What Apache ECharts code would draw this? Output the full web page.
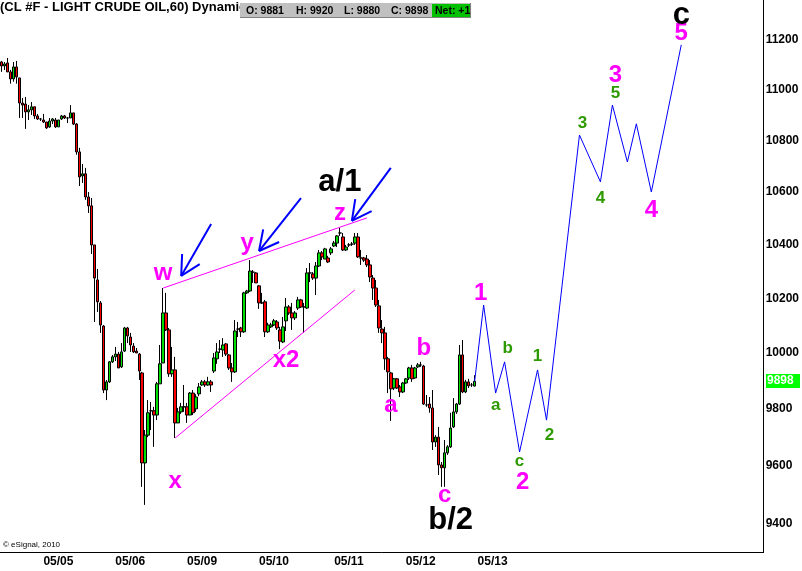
<!DOCTYPE html>
<html><head><meta charset="utf-8">
<script src="https://cdn.jsdelivr.net/npm/echarts@6.0.0/dist/echarts.min.js"></script>
<style>html,body{margin:0;padding:0;background:#fff}#c{width:802px;height:571px}</style>
</head><body><div id="c"></div>
<script>
// ---- data ----
const slotCount = 255;
const dateTickLabels = ['05/05','05/06','05/09','05/10','05/11','05/12','05/13'];
const dateTickIndex = [19,43,67,91,116,140,164];
const yTicks = [9400,9600,9800,10000,10200,10400,10600,10800,11000,11200];

const opens = [11111,11095,11107,11071,11043,11091,11047,10947,10943,10912,
10920,10932,10896,10884,10880,10872,10853,10876,10880,10853,
10884,10896,10888,10888,10908,10864,10755,10662,10670,10581,
10547,10399,10268,10183,10098,9867,9896,9968,9986,9996,
9950,10007,10091,10058,10025,10007,9996,9928,9610,9707,
9793,9793,9778,9889,9964,10146,10084,9925,9939,9750,
9789,9807,9807,9778,9856,9800,9853,9885,9896,9885,
9896,9935,9979,10014,10011,10033,9993,9946,9932,10087,
10091,10077,10220,10227,10297,10294,10246,10183,10187,10077,
10095,10102,10113,10084,10040,10117,10168,10146,10128,10164,
10194,10168,10164,10294,10290,10275,10320,10369,10346,10350,
10369,10395,10406,10444,10429,10380,10399,10402,10406,10429,
10350,10350,10346,10324,10275,10238,10172,10087,10073,9979,
9928,9874,9907,9878,9860,9892,9910,9946,9910,9950,
9957,9953,9814,9817,9803,9683,9700,9603,9593,9645,
9666,9736,9789,9817,9993,9860,9896,9885,9881];
const closes = [11095,11103,11071,11043,11091,11051,10947,10939,10912,10920,
10932,10896,10884,10884,10872,10849,10876,10884,10853,10880,
10896,10888,10888,10908,10864,10755,10658,10670,10581,10547,
10399,10275,10187,10102,9867,9896,9968,9986,9996,9946,
10004,10091,10062,10029,10004,10000,9935,9610,9707,9786,
9793,9778,9889,9961,10146,10084,9925,9939,9750,9789,
9807,9807,9778,9856,9786,9842,9878,9896,9885,9896,
9885,9982,10004,10014,10029,9996,9946,9932,10080,10087,
10077,10220,10227,10301,10297,10257,10183,10183,10077,10102,
10102,10117,10091,10043,10095,10168,10146,10128,10146,10194,
10168,10168,10294,10294,10275,10320,10369,10354,10384,10335,
10384,10406,10433,10444,10380,10391,10399,10402,10429,10354,
10350,10342,10324,10279,10238,10175,10091,10073,9979,9932,
9871,9907,9874,9860,9892,9907,9946,9907,9946,9957,
9957,9817,9814,9803,9683,9700,9603,9593,9645,9666,
9732,9789,9817,9993,9860,9896,9882,9885,9898];
const lows = [11071,11079,11071,11024,11032,11024,10888,10888,10845,10880,
10900,10884,10880,10876,10868,10845,10849,10864,10849,10853,
10880,10884,10868,10888,10860,10744,10623,10635,10570,10520,
10365,10113,10150,10073,9856,9831,9892,9964,9971,9946,
9946,10004,10036,10004,10000,10000,9903,9527,9465,9700,
9725,9666,9760,9889,9964,10080,9914,9914,9697,9750,
9782,9789,9750,9778,9778,9789,9845,9882,9878,9882,
9860,9928,9961,10000,9986,9989,9939,9896,9928,10058,
10058,10073,10216,10224,10257,10257,10161,10179,10058,10073,
10091,10098,10084,10014,10036,10080,10139,10084,10120,10157,
10164,10073,10161,10260,10268,10212,10316,10342,10346,10331,
10361,10391,10391,10433,10376,10376,10391,10395,10399,10350,
10324,10335,10316,10260,10194,10168,10073,10036,9939,9856,
9757,9867,9871,9842,9856,9889,9903,9896,9907,9946,
9950,9814,9807,9786,9655,9666,9568,9527,9527,9638,
9662,9732,9782,9814,9856,9856,9874,9878,9880];
const highs = [11115,11111,11127,11079,11111,11115,11047,10967,10971,10939,
10951,10932,10904,10888,10904,10872,10888,10888,10888,10880,
10900,10900,10892,10939,10908,10868,10771,10708,10693,10600,
10577,10399,10309,10190,10102,9903,9971,9993,10022,10004,
10036,10095,10095,10073,10036,10018,10000,9932,9725,9831,
9824,9807,9896,10029,10238,10220,10091,10022,9986,9803,
9821,9885,9821,9860,9867,9852,9892,9903,9903,9914,
9903,10000,10036,10047,10054,10036,9996,9964,10120,10113,
10095,10224,10231,10342,10305,10297,10249,10220,10194,10110,
10110,10124,10120,10095,10131,10201,10175,10183,10153,10205,
10198,10183,10312,10331,10297,10335,10380,10376,10388,10358,
10391,10414,10436,10463,10444,10399,10406,10410,10444,10444,
10380,10354,10361,10342,10286,10268,10194,10120,10095,9986,
9932,9910,9910,9885,9896,9910,9950,9957,9950,9964,
9968,9957,9849,9842,9867,9707,9736,9613,9690,9672,
9786,9838,9821,10029,10047,9903,9907,9892,9920];

const quoteOpen = 9881, quoteHigh = 9920, quoteLow = 9880, quoteClose = 9898, quoteNet = '+1';

// projected wave path (blue)
const projIndex = [158,161,165,168,173,179,182,193,200,204,209,212,217,227];
const projValue = [9898,10175,9856,9968,9648,9939,9760,10821,10639,10939,10716,10865,10600,11180];

// pink channel lines
const upperLine = [[54,10238],[122,10501]];
const lowerLine = [[58,9697],[118,10231]];

// blue arrows: [tailIndex, tailValue, headIndex, headValue]
const arrows = [[70,10478,60,10283],[100,10577,86,10376],[130,10693,117,10490]];

// wave labels
const pinkText  = ['w','y','z','x','x2','a','b','c','1','2','3','4','5'];
const pinkIndex = [54,82,113,58,95,130,141,148,160,174,205,217,227];
const pinkValue = [10294,10406,10520,9547,9975,9813,10018,9499,10220,9544,11059,10531,11228];

const blackText  = ['a/1','b/2','c'];
const blackIndex = [113,150,227];
const blackValue = [10635,9413,11298];

const greenText  = ['a','b','c','1','2','3','4','5'];
const greenIndex = [165,169,173,179,183,194,200,205];
const greenValue = [9813,10018,9617,9989,9708,10865,10577,10987];

const titleText = '(CL #F - LIGHT CRUDE OIL,60) Dynamic';

// ---- build ----
const FONT = '"Liberation Sans", Arial, sans-serif';
const slots = [];
for (let k = 0; k < slotCount; k++) slots.push(String(k));
const tickMap = {};
dateTickIndex.forEach((ix, k) => { tickMap[ix] = dateTickLabels[k]; });
const candleData = opens.map((o, k) => [o, closes[k], lows[k], highs[k]]);
const projData = projIndex.map((ix, k) => [ix, projValue[k]]);

function labelSeries(idx, vals, texts, color, size) {
  return {
    type: 'custom', silent: true, z: 10,
    data: idx.map((ix, k) => [ix, vals[k]]),
    renderItem: (params, api) => {
      const p = api.coord([api.value(0), api.value(1)]);
      return { type: 'text', x: p[0], y: p[1],
        style: { text: texts[params.dataIndex], fill: color,
          font: 'bold ' + size + 'px ' + FONT, align: 'center', verticalAlign: 'middle' } };
    }
  };
}

const headerGraphics = [
  { type: 'text', x: 0, y: 7, style: { text: titleText, font: 'bold 13px ' + FONT, fill: '#000', verticalAlign: 'middle' }, z: 100 },
  { type: 'rect', shape: { x: 240, y: 3, width: 231, height: 15 }, style: { fill: '#c0c0c0' }, z: 101 },
  { type: 'line', shape: { x1: 240, y1: 17.5, x2: 471, y2: 17.5 }, style: { stroke: '#808080', lineWidth: 1 }, z: 102 },
  { type: 'line', shape: { x1: 470.5, y1: 3, x2: 470.5, y2: 18 }, style: { stroke: '#808080', lineWidth: 1 }, z: 102 },
  { type: 'rect', shape: { x: 432, y: 4, width: 38, height: 13 }, style: { fill: '#00c000' }, z: 102 },
  { type: 'text', x: 246, y: 11, style: { text: 'O: ' + quoteOpen, font: 'bold 10.5px ' + FONT, fill: '#000', verticalAlign: 'middle' }, z: 103 },
  { type: 'text', x: 296, y: 11, style: { text: 'H: ' + quoteHigh, font: 'bold 10.5px ' + FONT, fill: '#000', verticalAlign: 'middle' }, z: 103 },
  { type: 'text', x: 344, y: 11, style: { text: 'L: ' + quoteLow, font: 'bold 10.5px ' + FONT, fill: '#000', verticalAlign: 'middle' }, z: 103 },
  { type: 'text', x: 391, y: 11, style: { text: 'C: ' + quoteClose, font: 'bold 10.5px ' + FONT, fill: '#000', verticalAlign: 'middle' }, z: 103 },
  { type: 'text', x: 435, y: 11, style: { text: 'Net: ' + quoteNet, font: 'bold 10.5px ' + FONT, fill: '#000', verticalAlign: 'middle' }, z: 104 },
  { type: 'text', x: 3, y: 545, style: { text: '\u00a9 eSignal, 2010', font: '8px ' + FONT, fill: '#000', verticalAlign: 'middle' }, z: 100 }
];

const chart = echarts.init(document.getElementById('c'), null, {renderer: 'canvas'});
chart.setOption({
  animation: false,
  backgroundColor: '#ffffff',
  grid: { left: 0, right: 37, top: 0, bottom: 19, containLabel: false },
  xAxis: {
    type: 'category', data: slots, boundaryGap: true,
    axisLine: { lineStyle: { color: '#000', width: 1 } },
    axisTick: { show: false }, splitLine: { show: false },
    axisLabel: {
      interval: (ix) => tickMap[ix] !== undefined,
      formatter: (v, ix) => tickMap[ix] || '',
      color: '#000', fontWeight: 'bold', fontSize: 12, fontFamily: FONT, margin: 4
    }
  },
  yAxis: {
    type: 'log', logBase: 10, position: 'right', min: 9305, max: 11363,
    axisLine: { show: true, lineStyle: { color: '#000', width: 1 } },
    axisTick: { show: false }, splitLine: { show: false },
    axisLabel: {
      customValues: yTicks,
      formatter: (v) => String(Math.round(v)),
      color: '#000', fontWeight: 'bold', fontSize: 12, fontFamily: FONT, margin: 2
    }
  },
  series: [
    {
      type: 'candlestick', data: candleData, barWidth: 3,
      itemStyle: { color: '#00dd00', color0: '#ff0000', borderColor: '#000', borderColor0: '#000', borderColorDoji: '#000', borderWidth: 1 }
    },
    { type: 'line', data: upperLine, symbol: 'none', silent: true, lineStyle: { color: '#ff00ff', width: 1 }, z: 5 },
    { type: 'line', data: lowerLine, symbol: 'none', silent: true, lineStyle: { color: '#ff00ff', width: 1 }, z: 5 },
    { type: 'line', data: projData, symbol: 'none', silent: true, lineStyle: { color: '#0000ff', width: 1 }, z: 5 },
    {
      type: 'custom', silent: true, z: 6,
      data: arrows,
      renderItem: (params, api) => {
        const t = api.coord([api.value(0), api.value(1)]);
        const h = api.coord([api.value(2), api.value(3)]);
        const ang = Math.atan2(t[1] - h[1], t[0] - h[0]);
        const L = 22, sp = 0.48;
        const st = { stroke: '#0000ff', lineWidth: 2 };
        const b1 = [h[0] + L * Math.cos(ang + sp), h[1] + L * Math.sin(ang + sp)];
        const b2 = [h[0] + L * Math.cos(ang - sp), h[1] + L * Math.sin(ang - sp)];
        return { type: 'group', children: [
          { type: 'line', shape: { x1: t[0], y1: t[1], x2: h[0], y2: h[1] }, style: st },
          { type: 'line', shape: { x1: h[0], y1: h[1], x2: b1[0], y2: b1[1] }, style: st },
          { type: 'line', shape: { x1: h[0], y1: h[1], x2: b2[0], y2: b2[1] }, style: st }
        ]};
      }
    },
    labelSeries(pinkIndex, pinkValue, pinkText, '#ff00ff', 24),
    labelSeries(blackIndex, blackValue, blackText, '#000000', 31),
    labelSeries(greenIndex, greenValue, greenText, '#2e9a00', 17)
  ],
  graphic: headerGraphics
});

// last-price tag on the right axis, placed through the y scale
const tagY = chart.convertToPixel({ yAxisIndex: 0 }, quoteClose);
chart.setOption({
  graphic: headerGraphics.concat([
    { type: 'rect', shape: { x: 766, y: Math.round(tagY) - 7, width: 34, height: 14 }, style: { fill: '#00ff00' }, z: 110 },
    { type: 'text', x: 767, y: Math.round(tagY), style: { text: String(quoteClose), font: 'bold 12px ' + FONT, fill: '#ffffff', verticalAlign: 'middle' }, z: 111 }
  ])
});
</script>
</body></html>
